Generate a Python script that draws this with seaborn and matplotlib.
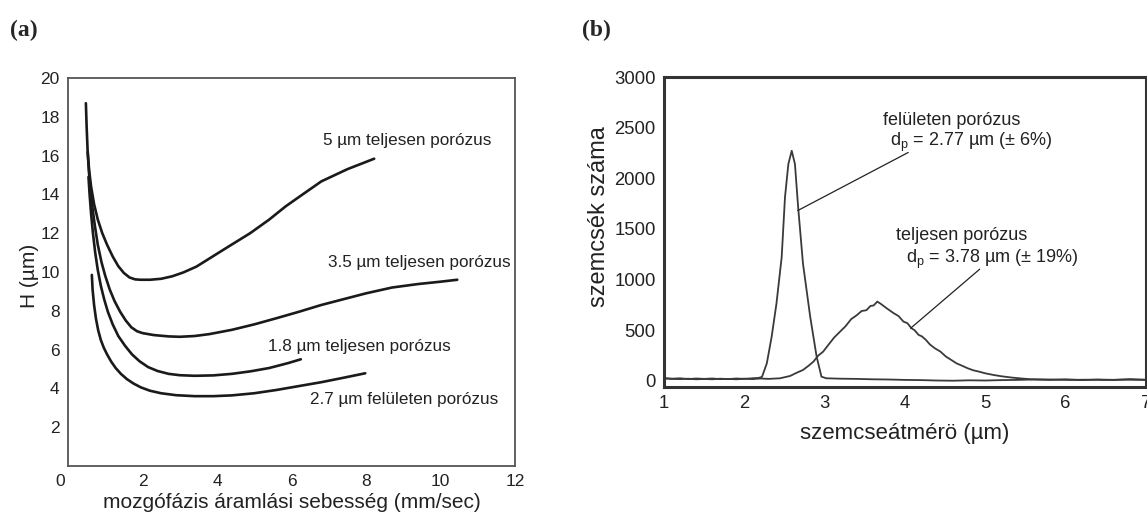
import matplotlib
matplotlib.use("Agg")
import matplotlib.pyplot as plt
import seaborn as sns
import pandas as pd
import matplotlib.transforms as mtransforms

# ---------------- Panel (a) data ----------------
x_5um = [0.48, 0.50, 0.53, 0.57, 0.62, 0.70, 0.80, 0.92, 1.05, 1.20, 1.35, 1.50, 1.65, 1.80,
         1.95, 2.20, 2.50, 2.80, 3.10, 3.45, 3.80, 4.30, 4.89, 5.40, 5.84, 6.30, 6.80, 7.50, 8.22]
h_5um = [18.7, 17.5, 16.1, 15.2, 14.4, 13.5, 12.7, 12.0, 11.4, 10.8, 10.3, 9.95, 9.72, 9.62,
         9.60, 9.60, 9.65, 9.78, 9.98, 10.28, 10.7, 11.3, 12.0, 12.7, 13.38, 14.0, 14.67, 15.3, 15.84]

x_35um = [0.53, 0.56, 0.60, 0.65, 0.72, 0.80, 0.90, 1.00, 1.12, 1.25, 1.40, 1.55, 1.70, 1.85,
          2.00, 2.30, 2.70, 3.00, 3.40, 3.80, 4.40, 5.00, 5.60, 6.20, 6.80, 7.40, 8.00, 8.70,
          9.40, 10.0, 10.45]
h_35um = [16.2, 15.2, 14.3, 13.4, 12.4, 11.4, 10.5, 9.8, 9.1, 8.5, 7.95, 7.5, 7.15, 6.95,
          6.85, 6.75, 6.68, 6.66, 6.70, 6.80, 7.02, 7.30, 7.62, 7.95, 8.30, 8.60, 8.90, 9.20,
          9.38, 9.50, 9.60]

x_18um = [0.55, 0.58, 0.62, 0.67, 0.73, 0.80, 0.88, 0.97, 1.07, 1.20, 1.35, 1.53, 1.72, 1.92,
          2.15, 2.40, 2.70, 3.00, 3.40, 3.90, 4.40, 4.90, 5.40, 5.90, 6.25]
h_18um = [14.9, 14.0, 13.0, 12.0, 11.0, 10.1, 9.3, 8.6, 7.95, 7.3, 6.7, 6.2, 5.75, 5.4,
          5.1, 4.9, 4.75, 4.68, 4.65, 4.67, 4.75, 4.88, 5.05, 5.30, 5.50]

x_27um = [0.64, 0.66, 0.70, 0.75, 0.81, 0.88, 0.96, 1.05, 1.16, 1.28, 1.42, 1.58, 1.76, 1.96,
          2.20, 2.50, 2.90, 3.40, 3.90, 4.40, 5.00, 5.60, 6.20, 6.80, 7.40, 7.98]
h_27um = [9.85, 9.1, 8.3, 7.6, 7.0, 6.5, 6.1, 5.75, 5.38, 5.05, 4.75, 4.48, 4.25, 4.05,
          3.88, 3.75, 3.65, 3.60, 3.60, 3.64, 3.75, 3.92, 4.12, 4.32, 4.55, 4.78]

labels_a = ["5 µm teljesen porózus", "3.5 µm teljesen porózus",
            "1.8 µm teljesen porózus", "2.7 µm felületen porózus"]
label_pos_a = [(6.85, 16.8), (6.97, 10.5), (5.36, 6.15), (6.51, 3.45)]

xticks_a = [0, 2, 4, 6, 8, 10, 12]
yticks_a = [2, 4, 6, 8, 10, 12, 14, 16, 18, 20]

# ---------------- Panel (b) data ----------------
d_fel = [1.00, 1.10, 1.20, 1.30, 1.40, 1.50, 1.60, 1.70, 1.80, 1.90, 2.00, 2.10, 2.18, 2.22,
         2.28, 2.34, 2.40, 2.465, 2.506, 2.548, 2.59, 2.63, 2.67, 2.73, 2.82, 2.90, 2.96, 3.02,
         3.20, 3.40, 3.60, 3.80, 4.00, 4.20, 4.40, 4.60, 4.80, 5.00, 5.20, 5.40, 5.60, 5.80,
         6.00, 6.20, 6.40, 6.60, 6.80, 7.00]
n_fel = [28, 22, 26, 18, 24, 20, 16, 22, 18, 24, 20, 26, 30, 40,
         174, 436, 764, 1223, 1813, 2141, 2272, 2141, 1714, 1158, 633, 239, 42, 26,
         22, 20, 16, 14, 10, 8, 4, 2, 6, 4, 8, 10, 14, 10,
         16, 8, 14, 10, 18, 12]

d_telj = [1.00, 1.10, 1.20, 1.30, 1.40, 1.50, 1.60, 1.70, 1.80, 1.90, 2.00, 2.10, 2.20, 2.30,
          2.444, 2.57, 2.65, 2.73, 2.80, 2.86, 2.92, 2.98, 3.05, 3.12, 3.19, 3.26, 3.33, 3.40,
          3.46, 3.52, 3.57, 3.61, 3.655, 3.70, 3.77, 3.86, 3.92, 3.98, 4.03, 4.08, 4.12, 4.17,
          4.21, 4.26, 4.31, 4.37, 4.44, 4.51, 4.58, 4.64, 4.71, 4.78, 4.85, 4.92, 5.00, 5.10,
          5.20, 5.33, 5.45, 5.57, 5.80, 6.03, 6.25, 6.49, 6.75, 7.00]
n_telj = [24, 20, 18, 22, 16, 20, 24, 18, 20, 16, 22, 18, 24, 20,
          26, 49, 80, 108, 150, 190, 250, 288, 360, 430, 485, 540, 610, 649,
          690, 698, 740, 745, 783, 760, 718, 668, 640, 586, 570, 520, 500, 454,
          440, 405, 360, 323, 290, 240, 205, 174, 150, 125, 105, 92, 75, 59,
          46, 33, 24, 16, 14, 10, 12, 10, 12, 10]

xticks_b = [1, 2, 3, 4, 5, 6, 7]
yticks_b = [0, 500, 1000, 1500, 2000, 2500, 3000]

# ---------------- Style ----------------
sns.set_theme(style="white")
plt.rcParams['font.family'] = ['Liberation Sans', 'DejaVu Sans']
plt.rcParams['mathtext.fontset'] = 'custom'
plt.rcParams['mathtext.rm'] = 'Liberation Sans'
plt.rcParams['mathtext.it'] = 'Liberation Sans'
plt.rcParams['mathtext.default'] = 'regular'

fig = plt.figure(figsize=(11.47, 5.14), dpi=100)
ax1 = fig.add_axes([68/1147, 1-466/514, (515-68)/1147, (466-78)/514])
ax2 = fig.add_axes([664/1147, 1-387/514, (1146-664)/1147, (387-77)/514])

# ---------------- Panel (a) ----------------
for xs, ys in [(x_5um, h_5um), (x_35um, h_35um), (x_18um, h_18um), (x_27um, h_27um)]:
    df = pd.DataFrame({"x": xs, "y": ys})
    sns.lineplot(data=df, x="x", y="y", ax=ax1, color="#1a1a1a", linewidth=1.9,
                 estimator=None, sort=False)

for txt, (tx, ty) in zip(labels_a, label_pos_a):
    ax1.text(tx, ty, txt, fontsize=12.3, color="#222222", va="center", ha="left")

ax1.set_xlim(0, 12)
ax1.set_ylim(0, 20)
ax1.set_xticks(xticks_a)
ax1.set_yticks(yticks_a)
ax1.tick_params(direction="in", length=5, width=1, color="#555555",
                labelsize=12.5, labelcolor="#222222", pad=6)
ax1.set_xlabel("mozgófázis áramlási sebesség (mm/sec)", fontsize=15, color="#222222", labelpad=3)
ax1.set_ylabel("H (µm)", fontsize=15, color="#222222")
ax1.yaxis.set_label_coords(-0.065, 0.49)
for sp in ax1.spines.values():
    sp.set_color("#555555")
    sp.set_linewidth(1.3)
lbl0 = ax1.get_xticklabels()[0]
lbl0.set_transform(lbl0.get_transform() + mtransforms.ScaledTranslation(-8/100, 0, fig.dpi_scale_trans))

# ---------------- Panel (b) ----------------
df_f = pd.DataFrame({"d": d_fel, "n": n_fel})
df_t = pd.DataFrame({"d": d_telj, "n": n_telj})
sns.lineplot(data=df_t, x="d", y="n", ax=ax2, color="#3a3a3a", linewidth=1.3,
             estimator=None, sort=False)
sns.lineplot(data=df_f, x="d", y="n", ax=ax2, color="#3a3a3a", linewidth=1.3,
             estimator=None, sort=False)

ax2.plot([4.04, 2.666], [2255, 1682], color="#222222", linewidth=0.9)
ax2.plot([4.93, 4.07], [1103, 520], color="#222222", linewidth=0.9)
fs_ann = 13
ax2.text(3.72, 2571, "felületen porózus", fontsize=fs_ann, color="#222222", va="center", ha="left")
ax2.text(3.81, 2350, r"d$_{\mathrm{p}}$ = 2.77 µm (± 6%)", fontsize=fs_ann, color="#222222", va="center", ha="left")
ax2.text(3.89, 1432, "teljesen porózus", fontsize=fs_ann, color="#222222", va="center", ha="left")
ax2.text(4.01, 1195, r"d$_{\mathrm{p}}$ = 3.78 µm (± 19%)", fontsize=fs_ann, color="#222222", va="center", ha="left")

ax2.set_xlim(1, 7)
ax2.set_ylim(-60, 3000)
ax2.set_xticks(xticks_b)
ax2.set_yticks(yticks_b)
ax2.tick_params(length=0, labelsize=13.3, labelcolor="#222222", pad=6)
ax2.set_xlabel("szemcseátmérö (µm)", fontsize=16, color="#222222", labelpad=8)
ax2.set_ylabel("szemcsék száma", fontsize=17, color="#222222")
ax2.yaxis.set_label_coords(-0.112, 0.55)
for sp in ax2.spines.values():
    sp.set_color("#333333")
    sp.set_linewidth(2.2)

# Panel letters
fig.text(10/1147, 1-30/514, "(a)", fontsize=17, fontweight="bold",
         family="Liberation Serif", va="center", ha="left")
fig.text(582/1147, 1-30/514, "(b)", fontsize=17, fontweight="bold",
         family="Liberation Serif", va="center", ha="left")

fig.savefig("out.png", dpi=100)
